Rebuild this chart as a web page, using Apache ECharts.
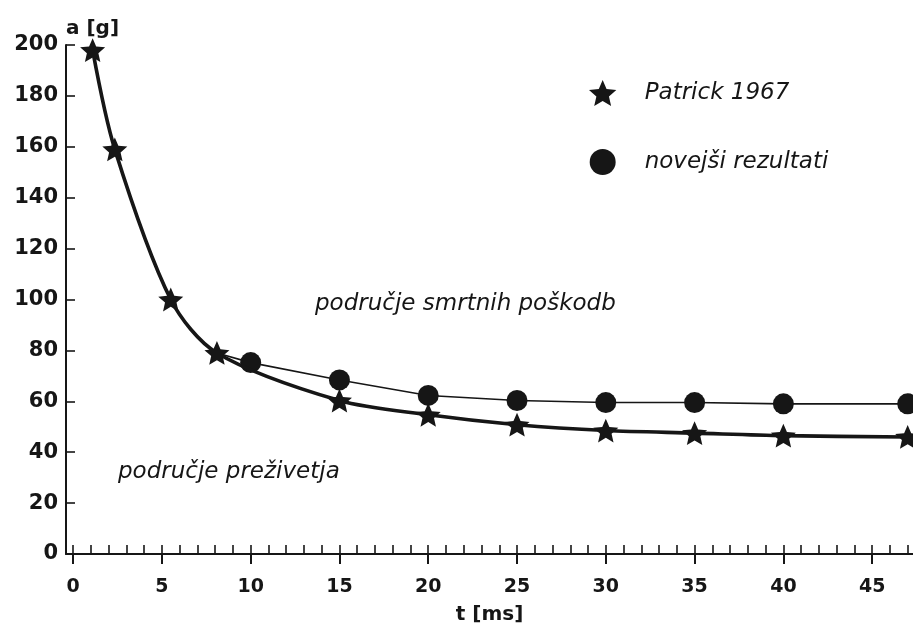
<!DOCTYPE html>
<html>
<head>
<meta charset="utf-8">
<title>a [g] – t [ms]</title>
<script src="https://cdn.jsdelivr.net/npm/echarts@6/dist/echarts.min.js"></script>
<style>
  html, body { margin: 0; padding: 0; background: #fff; }
  #chart { width: 913px; height: 628px; }
</style>
</head>
<body>
<div id="chart"></div>
<script>
// Tolerance curves: acceleration a [g] against pulse duration t [ms]
const patrickT = [1.1, 2.35, 5.5, 8.1, 15, 20, 25, 30, 35, 40, 47];
const patrickA = [198, 159, 100, 79, 60.3, 54.7, 50.8, 48.5, 47.5, 46.5, 46];

// newer results; the thin line starts at the Patrick point at 8.1 ms
const newerT = [8.1, 10, 15, 20, 25, 30, 35, 40, 47];
const newerA = [79, 75.2, 68.4, 62.3, 60.3, 59.5, 59.5, 59, 59];

const xMajorTicks = [0, 5, 10, 15, 20, 25, 30, 35, 40, 45];
const xMinorTicks = [];
for (let i = 0; i <= 47; i++) xMinorTicks.push(i);

const seriesNames = ['Patrick 1967', 'novejši rezultati'];
const axisNames = { x: 't [ms]', y: 'a [g]' };
const regionLabels = ['područje smrtnih poškodb', 'područje preživetja'];

// five-pointed star used as a marker
const STAR = 'path://M50 0 L63.52 31.39 L97.55 34.55 L71.87 57.11 L79.39 90.45 L50 73 L20.61 90.45 L28.13 57.11 L2.45 34.55 L36.48 31.39 Z';

const INK = '#161616';
const LABEL_FONT = 'DejaVu Sans';

const zip = (xs, ys) => xs.map((x, i) => [x, ys[i]]);

const newerData = zip(newerT, newerA).map((p, i) =>
  i === 0 ? { value: p, symbol: 'none' } : p);

const chart = echarts.init(document.getElementById('chart'), null, { renderer: 'canvas' });

const italicText = (text, x, y) => ({
  type: 'text', x: x, y: y,
  style: { text: text, fontFamily: LABEL_FONT, fontStyle: 'italic', fontSize: 23,
           fill: INK, align: 'left', verticalAlign: 'middle' }
});

chart.setOption({
  animation: false,
  backgroundColor: '#ffffff',
  textStyle: { fontFamily: LABEL_FONT, color: INK },
  grid: { left: 66, right: 0, top: 45, bottom: 74, outerBoundsMode: 'none', containLabel: false },
  xAxis: [
    {
      type: 'value',
      min: -0.4,
      max: 47.3,
      position: 'bottom',
      name: axisNames.x,
      nameLocation: 'middle',
      nameGap: 51,
      nameTextStyle: { fontFamily: LABEL_FONT, fontWeight: 'bold', fontSize: 20, color: INK },
      axisLine: { show: true, onZero: false, lineStyle: { color: INK, width: 2 } },
      axisTick: { show: true, inside: false, length: 10, customValues: xMajorTicks,
                  lineStyle: { color: INK, width: 2 } },
      axisLabel: { show: true, customValues: xMajorTicks, margin: 24,
                   fontFamily: LABEL_FONT, fontWeight: 'bold', fontSize: 19, color: INK },
      splitLine: { show: false },
      minorTick: { show: false }
    },
    {
      type: 'value',
      min: -0.4,
      max: 47.3,
      position: 'bottom',
      axisLine: { show: false, onZero: false },
      axisTick: { show: true, inside: true, length: 9, customValues: xMinorTicks,
                  lineStyle: { color: INK, width: 1.6 } },
      axisLabel: { show: false },
      splitLine: { show: false }
    }
  ],
  yAxis: {
    type: 'value',
    min: 0,
    max: 200,
    interval: 20,
    name: axisNames.y,
    nameLocation: 'end',
    nameGap: 6,
    nameTextStyle: { fontFamily: LABEL_FONT, fontWeight: 'bold', fontSize: 20, color: INK,
                     align: 'left', verticalAlign: 'bottom' },
    axisLine: { show: true, onZero: false, lineStyle: { color: INK, width: 2 } },
    axisTick: { show: true, inside: true, length: 9, lineStyle: { color: INK, width: 1.6 } },
    axisLabel: { margin: 8, padding: [6, 0, 0, 0], fontFamily: LABEL_FONT, fontWeight: 'bold',
                 fontSize: 21, color: INK },
    splitLine: { show: false }
  },
  legend: {
    orient: 'vertical',
    left: 589,
    top: 80,
    padding: 0,
    itemGap: 43,
    itemWidth: 74,
    itemHeight: 26,
    textStyle: { fontFamily: LABEL_FONT, fontStyle: 'italic', fontSize: 23, color: INK },
    data: [
      { name: seriesNames[0], icon: STAR },
      { name: seriesNames[1], icon: 'circle' }
    ]
  },
  graphic: [
    italicText(regionLabels[0], 315, 304),
    italicText(regionLabels[1], 118, 472)
  ],
  series: [
    {
      name: seriesNames[1],
      type: 'line',
      data: newerData,
      smooth: false,
      symbol: 'circle',
      symbolSize: 21,
      lineStyle: { color: INK, width: 1.6 },
      itemStyle: { color: INK },
      z: 2
    },
    {
      name: seriesNames[0],
      type: 'line',
      data: zip(patrickT, patrickA),
      smooth: 0.3,
      symbol: STAR,
      symbolSize: 25,
      symbolKeepAspect: true,
      lineStyle: { color: INK, width: 3.6 },
      itemStyle: { color: INK },
      z: 3
    }
  ]
});
</script>
</body>
</html>
